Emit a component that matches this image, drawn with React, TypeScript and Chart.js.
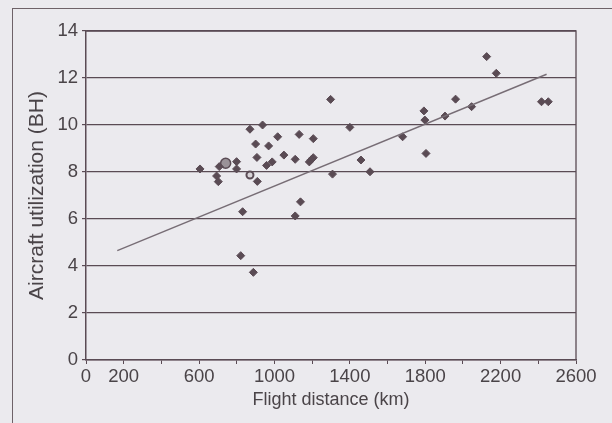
import React, { useEffect, useRef } from "react";
import { Chart, registerables } from "chart.js";

Chart.register(...registerables);

const distanceKm = [605, 693, 702, 707, 799, 799, 909, 870, 937, 900, 969, 907, 958, 988, 1017, 1050, 1110, 1131, 1206, 1185, 1206, 1195, 1298, 1308, 1400, 1138, 1110, 831, 821, 888, 1459, 1507, 1680, 1793, 1798, 1804, 1905, 1961, 2046, 2126, 2177, 2417, 2453];
const utilizationBH = [8.13, 7.83, 7.59, 8.23, 8.44, 8.13, 7.6, 9.82, 10.0, 9.19, 9.11, 8.62, 8.28, 8.43, 9.5, 8.72, 8.54, 9.6, 9.42, 8.43, 8.61, 8.52, 11.09, 7.91, 9.9, 6.73, 6.13, 6.31, 4.44, 3.73, 8.51, 8.01, 9.5, 10.6, 10.21, 8.79, 10.38, 11.1, 10.78, 12.91, 12.2, 10.99, 10.99];

const greyPointKm = [741];
const greyPointBH = [8.37];
const ringPointKm = [870];
const ringPointBH = [7.87];

const trendKm = [166, 2444];
const trendBH = [4.65, 12.16];

const yTicks = [0, 2, 4, 6, 8, 10, 12, 14];
const xLabelled = [0, 200, 600, 1000, 1400, 1800, 2200, 2600];

const INK = "#5a4b54";
const TEXT = "#4a4448";
const FONT = "'Liberation Sans', Arial, sans-serif";

export default function App() {
  const ref = useRef<HTMLCanvasElement | null>(null);

  useEffect(() => {
    document.body.style.margin = "0";
    const canvas = ref.current;
    if (!canvas) return;
    const zip = (xs: number[], ys: number[]) => xs.map((x, i) => ({ x, y: ys[i] }));
    const chart = new Chart(canvas, {
      type: "scatter",
      data: {
        datasets: [
          {
            type: "line",
            data: zip(trendKm, trendBH),
            borderColor: "#776d75",
            borderWidth: 1.4,
            pointRadius: 0,
            fill: false,
          } as any,
          {
            data: zip(distanceKm, utilizationBH),
            pointStyle: "rectRot",
            pointRadius: 4,
            backgroundColor: INK,
            borderColor: INK,
            borderWidth: 1,
          },
          {
            data: zip(greyPointKm, greyPointBH),
            pointStyle: "circle",
            pointRadius: 5,
            backgroundColor: "#9a9298",
            borderColor: INK,
            borderWidth: 1.5,
          },
          {
            data: zip(ringPointKm, ringPointBH),
            pointStyle: "circle",
            pointRadius: 3.5,
            backgroundColor: "#d8d4d8",
            borderColor: INK,
            borderWidth: 2,
          },
        ],
      },
      options: {
        animation: false,
        responsive: false,
        maintainAspectRatio: false,
        layout: { padding: { left: 25, right: 36, top: 31, bottom: 0 } },
        plugins: { legend: { display: false }, tooltip: { enabled: false } },
        scales: {
          x: {
            type: "linear",
            min: 0,
            max: 2600,
            afterBuildTicks: (axis: any) => {
              const t = [];
              for (let v = 0; v <= 2600; v += 200) t.push({ value: v });
              axis.ticks = t;
            },
            afterFit: (axis: any) => {
              axis.height = 63;
            },
            grid: {
              display: true,
              drawOnChartArea: false,
              drawTicks: true,
              tickLength: 4,
              color: INK,
              lineWidth: 1,
            },
            border: { display: true, color: INK, width: 1.5 },
            ticks: {
              autoSkip: false,
              maxRotation: 0,
              padding: 2,
              color: TEXT,
              font: { family: FONT, size: 18.5 },
              callback: (v: any) => (xLabelled.includes(Number(v)) ? String(v) : ""),
            },
            title: {
              display: true,
              text: "Flight distance (km)",
              color: TEXT,
              padding: { top: 2, bottom: 12 },
              font: { family: FONT, size: 18 },
            },
          },
          y: {
            type: "linear",
            min: 0,
            max: 14,
            afterBuildTicks: (axis: any) => {
              axis.ticks = yTicks.map((v) => ({ value: v }));
            },
            afterFit: (axis: any) => {
              axis.width = 61;
            },
            grid: {
              display: true,
              drawOnChartArea: true,
              drawTicks: true,
              tickLength: 4,
              color: INK,
              lineWidth: 1.2,
            },
            border: { display: true, color: INK, width: 1.5 },
            ticks: {
              padding: 4,
              color: TEXT,
              font: { family: FONT, size: 18.5 },
            },
            title: {
              display: true,
              text: "Aircraft utilization (BH)",
              color: TEXT,
              padding: { top: 0, bottom: 0 },
              font: { family: FONT, size: 21 },
            },
          },
        },
      },
      plugins: [
        {
          id: "rightBorder",
          afterDraw: (c: any) => {
            const { ctx, chartArea } = c;
            ctx.save();
            ctx.strokeStyle = INK;
            ctx.lineWidth = 1.3;
            ctx.beginPath();
            ctx.moveTo(chartArea.left, chartArea.top);
            ctx.lineTo(chartArea.right, chartArea.top);
            ctx.lineTo(chartArea.right, chartArea.bottom);
            ctx.stroke();
            ctx.restore();
          },
        },
      ],
    });
    return () => chart.destroy();
  }, []);

  return (
    <div
      style={{
        position: "relative",
        width: 612,
        height: 423,
        background: "#ebeaee",
        overflow: "hidden",
      }}
    >
      <div
        style={{
          position: "absolute",
          left: 12,
          top: 8,
          width: 620,
          height: 430,
          borderLeft: "1.5px solid #6e6268",
          borderTop: "1.5px solid #6e6268",
        }}
      />
      <canvas ref={ref} width={612} height={423} style={{ position: "absolute", left: 0, top: 0 }} />
    </div>
  );
}
